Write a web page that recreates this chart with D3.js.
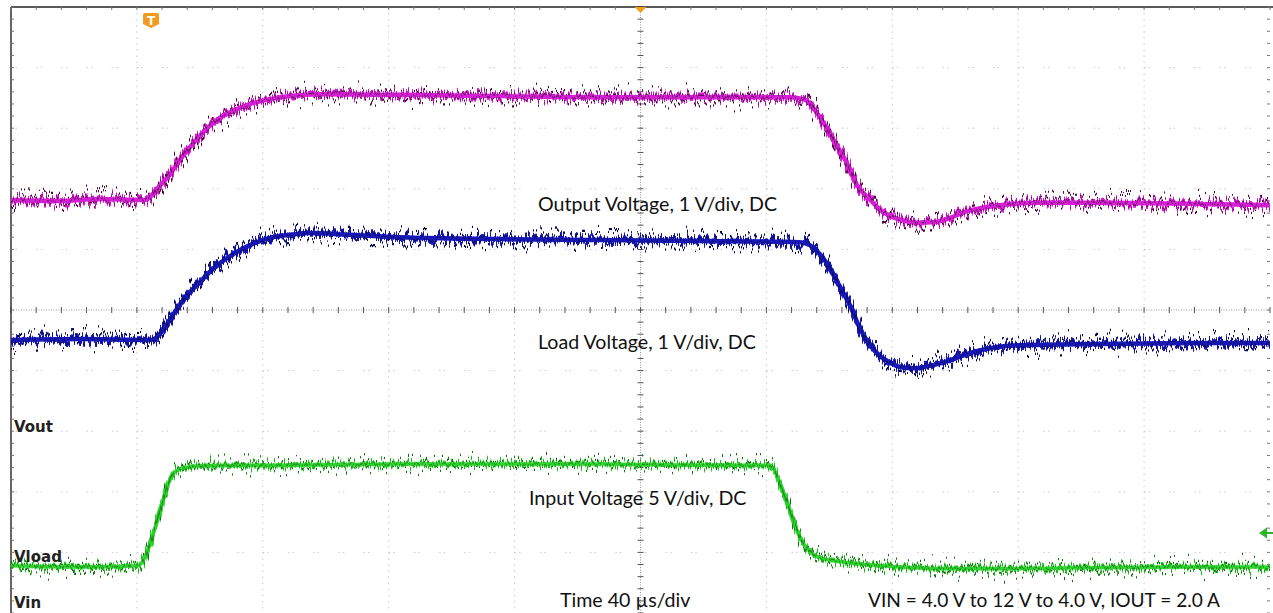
<!DOCTYPE html>
<html><head><meta charset="utf-8">
<script src="https://cdn.jsdelivr.net/npm/d3@7"></script>
<style>
html,body{margin:0;padding:0;background:#fff;}
svg{display:block;}
</style></head>
<body>
<svg id="chart" width="1273" height="613"></svg>
<script>
// ---- data (time in µs, vertical position in screen divisions, 0 = centre) ----
const outT = [0,15,28,42.5,44,47.3,50.5,53.7,56.9,60,63.2,66.4,71.2,76,82.3,88.6,98,124,155,187,219,247.5,252.3,255.4,258.6,261.8,265,268.8,272.9,277.1,282.4,287.9,293.6,298.4,303.1,307.9,314.2,326.9,346,377.8,400];
const outV = [1.815,1.80,1.83,1.815,1.86,2.05,2.24,2.48,2.69,2.87,3.04,3.17,3.30,3.40,3.48,3.53,3.56,3.55,3.53,3.51,3.51,3.51,3.47,3.30,3.05,2.76,2.48,2.06,1.82,1.62,1.49,1.44,1.45,1.52,1.62,1.68,1.73,1.77,1.77,1.75,1.73];

const loadT = [0,21.9,44.2,46.7,49.2,52.1,55.3,60,64.8,69.6,75.9,82.3,88.6,95,107.7,123.6,155.4,187.2,218.9,250.7,253.8,257,260.2,263.4,266.6,269.7,272.9,276.1,279.3,282.4,287.2,292,298.3,304.7,311,320.6,346,377.8,400];
const loadV = [-0.495,-0.48,-0.495,-0.43,-0.26,-0.03,0.20,0.46,0.71,0.89,1.07,1.19,1.24,1.27,1.24,1.20,1.17,1.155,1.14,1.12,1.07,0.92,0.69,0.38,0.07,-0.30,-0.58,-0.76,-0.87,-0.94,-0.96,-0.92,-0.83,-0.71,-0.63,-0.58,-0.56,-0.545,-0.545];

const inT = [0,21.9,40.3,41.9,43.5,45.1,46.7,48.3,49.9,51.8,54.3,60,91.8,123.6,155.4,187.2,218.9,240.5,242.5,244.3,246.6,249.1,251.6,254.3,258.6,266.6,282.4,298.3,314.2,346,377.8,400];
const inV = [-4.22,-4.24,-4.22,-4.14,-3.96,-3.71,-3.43,-3.14,-2.87,-2.69,-2.61,-2.57,-2.56,-2.54,-2.54,-2.54,-2.56,-2.56,-2.64,-2.87,-3.18,-3.56,-3.84,-4.01,-4.11,-4.17,-4.24,-4.27,-4.27,-4.25,-4.24,-4.24];

const traceLabels = ["Output Voltage, 1 V/div, DC","Load Voltage, 1 V/div, DC","Input Voltage 5 V/div, DC"];
const chLabels = ["Vout","Vload","Vin"];
const footer = ["Time 40 µs/div","VIN = 4.0 V to 12 V to 4.0 V, IOUT = 2.0 A"];
const xTicks = d3.range(0, 401, 40);   // 40 µs/div
const yTicks = d3.range(-5, 6, 1);     // screen divisions

// ---- layout ----
const svg = d3.select("#chart");
const L = 11, R = 1270, T = 7, B = 613;
const x = d3.scaleLinear().domain([0,400]).range([L,R]);
const y = d3.scaleLinear().domain([-5,5]).range([B,T]);
const minorX = d3.range(0, 400.01, 8);
const minorY = d3.range(-5, 5.01, 0.2);

svg.append("rect").attr("width",1273).attr("height",613).attr("fill","#fff");

const defs = svg.append("defs");
function noiseFilter(id, seed, scale, fx) {
  const f = defs.append("filter").attr("id",id).attr("filterUnits","userSpaceOnUse")
    .attr("x",0).attr("y",0).attr("width",1273).attr("height",613)
    .attr("color-interpolation-filters","sRGB");
  f.append("feTurbulence").attr("type","fractalNoise").attr("baseFrequency",fx+" 0.002")
    .attr("numOctaves",2).attr("seed",seed).attr("result","turb");
  f.append("feColorMatrix").attr("in","turb").attr("type","matrix")
    .attr("values","0 0 0 0 0.5  0 1.6 0 0 -0.3  0 0 0 0 0  0 0 0 0 1").attr("result","map");
  f.append("feDisplacementMap").attr("in","SourceGraphic").attr("in2","map")
    .attr("scale",scale).attr("xChannelSelector","R").attr("yChannelSelector","G");
}
noiseFilter("noiseA", 3, 28, 0.5);
noiseFilter("noiseB", 11, 14, 0.7);

// ---- graticule ----
const g = svg.append("g");
xTicks.filter(t => t>0 && t<400 && t!==200).forEach(t => {
  g.append("line").attr("x1",x(t)).attr("x2",x(t)).attr("y1",T).attr("y2",B)
   .attr("stroke","#c9c9c9").attr("stroke-width",1).attr("stroke-dasharray","1.5,4.5,1.5,4.62");
});
yTicks.filter(v => v>-5 && v<5 && v!==0).forEach(v => {
  g.append("line").attr("x1",L).attr("x2",R).attr("y1",y(v)).attr("y2",y(v))
   .attr("stroke","#c9c9c9").attr("stroke-width",1).attr("stroke-dasharray","1.5,3,1.5,19.18");
});
g.append("line").attr("x1",x(200)).attr("x2",x(200)).attr("y1",T).attr("y2",B)
 .attr("stroke","#999").attr("stroke-width",1).attr("stroke-dasharray","1,1.5");
g.append("line").attr("x1",L).attr("x2",R).attr("y1",y(0)).attr("y2",y(0))
 .attr("stroke","#999").attr("stroke-width",1).attr("stroke-dasharray","1,1.5");
g.selectAll(".cx").data(minorY).enter().append("line")
 .attr("x1",x(200)-3).attr("x2",x(200)+3).attr("y1",d=>y(d)).attr("y2",d=>y(d))
 .attr("stroke","#555").attr("stroke-width",1);
g.selectAll(".cy").data(minorX).enter().append("line")
 .attr("y1",y(0)-3).attr("y2",y(0)+3).attr("x1",d=>x(d)).attr("x2",d=>x(d))
 .attr("stroke","#555").attr("stroke-width",1);
g.append("line").attr("x1",L).attr("x2",1273).attr("y1",T).attr("y2",T).attr("stroke","#222").attr("stroke-width",1.5);
g.append("line").attr("x1",L).attr("x2",L).attr("y1",T).attr("y2",B).attr("stroke","#333").attr("stroke-width",1.5);
g.selectAll(".tt").data(minorX).enter().append("line")
 .attr("x1",d=>x(d)).attr("x2",d=>x(d)).attr("y1",T).attr("y2",T+3).attr("stroke","#777");
g.selectAll(".lt").data(minorY).enter().append("line")
 .attr("x1",L).attr("x2",L+3).attr("y1",d=>y(d)).attr("y2",d=>y(d)).attr("stroke","#777");
g.selectAll(".rt").data(minorY).enter().append("line")
 .attr("x1",R-3).attr("x2",R).attr("y1",d=>y(d)).attr("y2",d=>y(d)).attr("stroke","#777");

// ---- traces ----
const line = d3.line().x(d=>x(d[0])).y(d=>y(d[1])).curve(d3.curveMonotoneX);
const traces = [
  {t:outT, v:outV, c:"#d61ed6", dark:"#4a0838", w:5.5},
  {t:loadT, v:loadV, c:"#1818b8", dark:"#06064a", w:5.5},
  {t:inT, v:inV, c:"#2fd52f", dark:"#127012", w:4.5}
];
traces.forEach(tr => {
  const pts = tr.t.map((t,i)=>[t,tr.v[i]]);
  svg.append("path").attr("d",line(pts)).attr("fill","none")
    .attr("stroke",tr.dark).attr("stroke-width",2.2).attr("filter","url(#noiseA)");
  svg.append("path").attr("d",line(pts)).attr("fill","none")
    .attr("stroke",tr.c).attr("stroke-width",tr.w).attr("stroke-linejoin","round").attr("filter","url(#noiseB)");
  svg.append("path").attr("d",line(pts)).attr("fill","none")
    .attr("stroke",tr.c).attr("stroke-width",tr.w-1).attr("stroke-linejoin","round");
  svg.append("path").attr("d",line(pts)).attr("fill","none")
    .attr("stroke",tr.dark).attr("stroke-width",1.4).attr("opacity",0.7).attr("filter","url(#noiseB)");
});

// ---- markers ----
svg.append("path").attr("d",`M${x(200)-6},${T} L${x(200)+6},${T} L${x(200)},${T+6} Z`).attr("fill","#f0a020");
const tx = x(44.5), ty = 13;
svg.append("path").attr("d",`M${tx-8},${ty+2} q0,-2 2,-2 h12 q2,0 2,2 v9 l-8,4 l-8,-4 Z`).attr("fill","#f39a1e");
svg.append("text").attr("x",tx).attr("y",ty+12).attr("text-anchor","middle")
  .attr("font-family","DejaVu Sans").attr("font-weight","bold").attr("font-size",12).attr("fill","#fff").text("T");
svg.append("path").attr("d",`M${1259},${y(-3.68)} l8,-5.5 v11 Z`).attr("fill","#2bb52b");
svg.append("line").attr("x1",1265).attr("x2",1273).attr("y1",y(-3.68)).attr("y2",y(-3.68)).attr("stroke","#2bb52b").attr("stroke-width",2);

// ---- text ----
const tf = "Lato, 'Open Sans', sans-serif";
const lab = svg.append("g").attr("font-family",tf).attr("font-size",19.6).attr("fill","#111");
lab.append("text").attr("x",538).attr("y",211).text(traceLabels[0]);
lab.append("text").attr("x",538).attr("y",349).text(traceLabels[1]);
lab.append("text").attr("x",529).attr("y",505).text(traceLabels[2]);
lab.append("text").attr("x",560).attr("y",607).text(footer[0]);
lab.append("text").attr("x",868).attr("y",607).attr("textLength",352).attr("lengthAdjust","spacingAndGlyphs").text(footer[1]);
const chg = svg.append("g").attr("font-family","DejaVu Sans").attr("font-size",15).attr("font-weight","bold").attr("fill","#222");
chg.append("text").attr("x",14).attr("y",432).text(chLabels[0]);
chg.append("text").attr("x",14).attr("y",562).text(chLabels[1]);
chg.append("text").attr("x",14).attr("y",608).text(chLabels[2]);
</script>
</body></html>
